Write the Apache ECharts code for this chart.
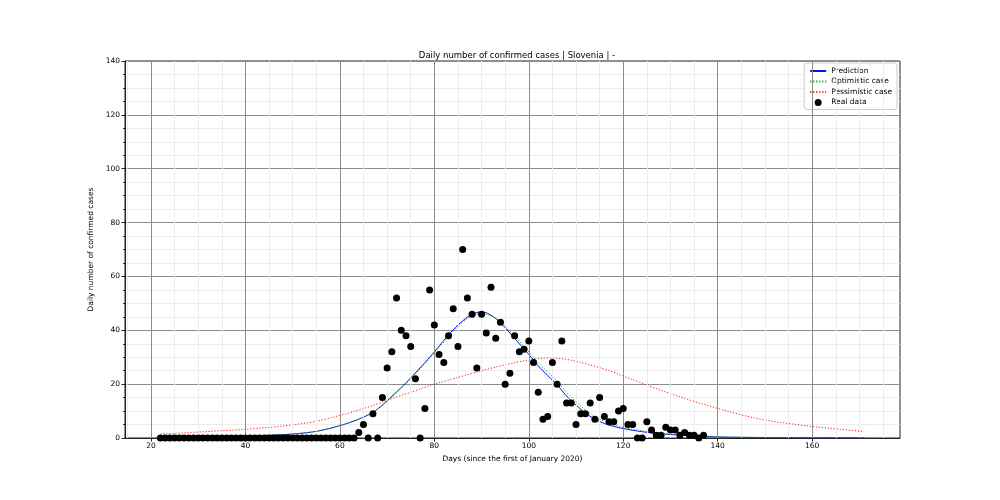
<!DOCTYPE html>
<html>
<head>
<meta charset="utf-8">
<script src="https://cdn.jsdelivr.net/npm/echarts@6/dist/echarts.min.js"></script>
<style>html,body{margin:0;padding:0;background:#fff}#c{width:1000px;height:500px}</style>
</head>
<body>
<div id="c"></div>
<script>
// ---- data ----
const titleText = 'Daily number of confirmed cases | Slovenia | -';
const xName = 'Days (since the first of January 2020)';
const yName = 'Daily number of confirmed cases';
const xTicks = [20, 40, 60, 80, 100, 120, 140, 160];
const xMinorTicks = [15, 25, 30, 35, 45, 50, 55, 65, 70, 75, 85, 90, 95, 105, 110, 115, 125, 130, 135, 145, 150, 155, 165, 170, 175];

const realFirstDay = 22;
const realData = [
  0,0,0,0,0,0,0,0,0,0, 0,0,0,0,0,0,0,0,0,0, 0,0,0,0,0,0,0,0,0,0, 0,0,0,0,0,0,0,0,0,0, 0,0, // 22-63
  2,5,0,9,0,15,26,32,52,40,38,34,22,0,11,55,42,31,28,38,48,34,70,52,46,26,46,39,56,37,43,20,24,38,32,33,36,28,17, // 64-102
  7,8,28,20,36,13,13,5,9,9,13,7,15,8,6,6,10,11,5,5,0,0,6,3,1,1,4,3,3,1,2,1,1,0,1 // 103-137
];

const curveDays = [22,26,30,34,38,42,46,50,54,57,60,62,64,66,68,70,72,74,76,78,80,82,84,86,88,90,92,94,96,98,100,102,104,106,108,110,112,114,116,118,120,123,126,130,135,140,145,150,155,160,165,171];
const prediction = [0.3,0.35,0.4,0.5,0.6,0.8,1.1,1.5,2.2,3.2,4.6,5.7,7.0,8.6,10.8,13.8,17.1,20.5,24.2,28.0,32.0,36.2,40.2,43.5,45.9,46.8,45.6,42.8,39.0,35.0,31.0,26.8,23.2,19.7,15.6,12.2,9.3,7.0,5.4,4.3,3.5,2.6,1.9,1.3,0.8,0.4,0.25,0.15,0.1,0.07,0.05,0.03];
const optimistic = [0.3,0.35,0.4,0.5,0.6,0.8,1.1,1.5,2.2,3.2,4.6,5.7,7.0,8.5,10.7,13.6,16.9,20.2,23.8,27.6,31.6,35.7,39.7,43.0,45.3,46.2,45.3,43.0,39.6,36.0,32.0,28.0,24.5,21.0,17.0,13.5,10.4,8.0,6.2,4.9,3.9,2.9,2.1,1.4,0.9,0.5,0.3,0.2,0.12,0.08,0.06,0.04];
const pessimistic = [1.5,1.8,2.2,2.6,3.0,3.5,4.1,4.9,5.9,7.0,8.4,9.3,10.4,11.5,12.7,14.0,15.2,16.4,17.6,18.8,20.0,21.0,22.0,23.0,24.0,25.0,25.9,26.8,27.6,28.3,29.0,29.5,29.7,29.6,29.2,28.5,27.6,26.6,25.6,24.4,23.0,21.0,19.0,16.5,13.6,11.0,8.6,6.7,5.4,4.3,3.4,2.4];

// ---- build ----
const pairs = (vals) => curveDays.map((d, i) => [d, vals[i]]);
const realPairs = realData.map((v, i) => [realFirstDay + i, v]);

const font = 'DejaVu Sans';
const chart = echarts.init(document.getElementById('c'), null, {renderer: 'canvas'});
const hideSym = {opacity: 0};
chart.setOption({
  animation: false,
  backgroundColor: '#fff',
  textStyle: {fontFamily: font},
  title: {
    text: titleText, left: 512, top: 46, textAlign: 'center',
    textStyle: {fontFamily: font, fontSize: 8.5, fontWeight: 'normal', color: '#000'}
  },
  grid: {left: 125, right: 100, top: 61, bottom: 62, show: true, borderColor: '#222', borderWidth: 1, backgroundColor: 'transparent'},
  legend: {
    orient: 'vertical', right: 103, top: 63, align: 'left',
    backgroundColor: '#fff', borderColor: '#ccc', borderWidth: 1, borderRadius: 3,
    padding: [4, 5, 3, 5], itemGap: 2.5, itemWidth: 16, itemHeight: 7,
    textStyle: {fontFamily: font, fontSize: 7.5, color: '#000'},
    data: [
      {name: 'Prediction', itemStyle: hideSym},
      {name: 'Optimistic case', itemStyle: hideSym},
      {name: 'Pessimistic case', itemStyle: hideSym},
      {name: 'Real data', icon: 'circle'}
    ]
  },
  xAxis: {
    type: 'value', min: 14.5, max: 178.6,
    name: xName, nameLocation: 'middle', nameGap: 12,
    nameTextStyle: {fontFamily: font, fontSize: 7.5, color: '#000'},
    axisLine: {show: true, lineStyle: {color: '#222'}},
    axisTick: {show: true, customValues: xTicks, length: 3.5, lineStyle: {color: '#222'}},
    axisLabel: {customValues: xTicks, fontFamily: font, fontSize: 7.5, color: '#000', margin: 4},
    splitLine: {show: false}
  },
  yAxis: {
    type: 'value', min: 0, max: 140, interval: 20,
    name: yName, nameLocation: 'middle', nameGap: 18,
    nameTextStyle: {fontFamily: font, fontSize: 7.5, color: '#000'},
    axisLine: {show: true, lineStyle: {color: '#222'}},
    axisTick: {show: true, length: 3.5, lineStyle: {color: '#222'}},
    minorTick: {show: true, splitNumber: 4, length: 2, lineStyle: {color: '#222'}},
    axisLabel: {fontFamily: font, fontSize: 7.5, color: '#000', margin: 5},
    splitLine: {show: true, lineStyle: {color: '#8c8c8c', width: 1}},
    minorSplitLine: {show: true, lineStyle: {color: '#ececec', width: 1}}
  },
  series: [
    {
      name: 'gridlines', type: 'line', data: [], silent: true, z: 0, legendHoverLink: false,
      markLine: {
        silent: true, symbol: ['none', 'none'], label: {show: false}, animation: false,
        data: xMinorTicks.map(v => ({xAxis: v, lineStyle: {color: '#ececec', width: 1, type: 'solid'}}))
          .concat(xTicks.map(v => ({xAxis: v, lineStyle: {color: '#8c8c8c', width: 1, type: 'solid'}})))
      }
    },
    {
      name: 'Pessimistic case', type: 'line', data: pairs(pessimistic), smooth: 0.4, symbol: 'none',
      lineStyle: {color: '#ff2020', width: 1, type: [1.2, 1.8]}, itemStyle: {color: '#ff2020'}, z: 3
    },
    {
      name: 'Prediction', type: 'line', data: pairs(prediction), smooth: 0.4, symbol: 'none',
      lineStyle: {color: '#1010ee', width: 1}, itemStyle: {color: '#1010ee'}, z: 4
    },
    {
      name: 'Optimistic case', type: 'line', data: pairs(optimistic), smooth: 0.4, symbol: 'none',
      lineStyle: {color: '#11aa11', width: 1, type: [1.2, 1.8]}, itemStyle: {color: '#11aa11'}, z: 5
    },
    {
      name: 'Real data', type: 'scatter', data: realPairs, symbol: 'circle', symbolSize: 7,
      itemStyle: {color: '#000', opacity: 1}, z: 6
    }
  ]
});
</script>
</body>
</html>
